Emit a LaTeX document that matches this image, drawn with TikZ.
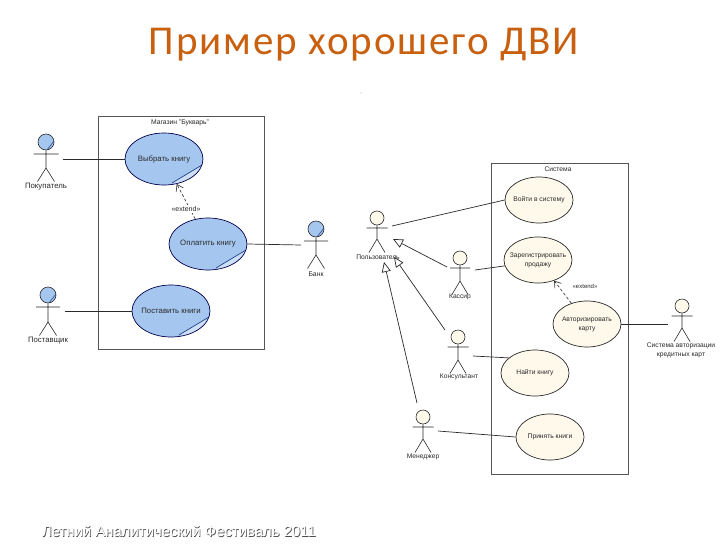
\documentclass[tikz,border=0pt]{standalone}
\usepackage{fontspec}
\setmainfont{Liberation Sans}
\newfontfamily\titlefont[LetterSpace=4.6]{Carlito}
\usetikzlibrary{shapes.geometric,arrows.meta}
\definecolor{titleor}{HTML}{C8600F}
\definecolor{ink}{HTML}{2A2A2A}
\definecolor{blueuc}{HTML}{A5C6EE}
\definecolor{creamuc}{HTML}{FFF9EC}
\definecolor{foldblue}{HTML}{24478F}
\tikzset{
  x=1pt,y=-1pt,
  lbl/.style={font=\fontsize{7.8}{9.5}\selectfont,text=ink,inner sep=0pt,align=center},
  lblr/.style={font=\fontsize{6.7}{9}\selectfont,text=ink,inner sep=0pt,align=center},
  sysbox/.style={draw=ink!80,line width=.9pt},
  conn/.style={draw=ink,line width=.7pt},
  ucbase/.style={ellipse,draw=ink,line width=.7pt},
  ucblue/.style={ucbase,lbl,inner xsep=-20pt,inner ysep=-4pt,fill=blueuc,draw=black!70!blue,minimum width=78pt,minimum height=52pt,
    path picture={
      \fill[blueuc!55!white] ([shift={(8,24)}]path picture bounding box.center) -- ([shift={(38,6)}]path picture bounding box.center) -- ([shift={(40,30)}]path picture bounding box.center) -- cycle;
      \draw[foldblue,line width=.7pt] ([shift={(8,24)}]path picture bounding box.center) -- ([shift={(38,6)}]path picture bounding box.center);
    }},
  uccream/.style={ucbase,lblr,inner xsep=-20pt,inner ysep=-6pt,fill=creamuc,minimum width=68pt,minimum height=46pt},
  headblue/.style={fill=blueuc,minimum size=16pt,
    path picture={\draw[foldblue,line width=.6pt] ([shift={(1,8)}]path picture bounding box.center) -- ([shift={(8,-1)}]path picture bounding box.center);}},
  headcream/.style={fill=creamuc,minimum size=14pt},
  genline/.style={conn,-{Triangle[open,fill=white,length=10pt,width=9pt]}},
  extline/.style={draw=ink,line width=.6pt,densely dashed,-{Straight Barb[length=6pt,width=8pt]}},
  footer/.style={font=\fontsize{14.9}{17}\selectfont,inner sep=0pt},
}
% actor: #1 name, #2 x, #3 y (head centre), #4 head style, #5 arm drop, #6 hip drop, #7 half arm span, #8 leg spread
\newcommand{\actorfig}[8]{%
  \node[circle,draw=ink,line width=.6pt,inner sep=0pt,#4] (#1) at (#2,#3) {};
  \coordinate (#1hip) at (#2,#3+#6);
  \draw[ink,line width=.6pt] (#1.south) -- (#1hip)
    (#1hip) -- ++(-#8,13.5) (#1hip) -- ++(#8,13.5)
    (#2-#7,#3+#5) -- (#2+#7,#3+#5);
}
\begin{document}
\begin{tikzpicture}
\useasboundingbox (0,0) rectangle (728,546);
\fill[white] (0,0) rectangle (728,546);
\node[font=\titlefont\fontsize{41}{46}\selectfont,text=titleor,inner sep=0pt] (title) at (364,45) {Пример хорошего ДВИ};
\fill[black!30] (361,93) circle (.7);

% left system
\draw[sysbox] (98,116) rectangle (264,349);
\node[lbl,font=\fontsize{6.8}{8}\selectfont] (shoplbl) at (180,123) {Магазин "Букварь"};
\node[ucblue] (choose) at (164,159) {Выбрать книгу};
\node[ucblue] (pay) at (208,244) {Оплатить книгу};
\node[ucblue] (supply) at (171,311) {Поставить книги};

\actorfig{buyer}{46}{142}{headblue}{12}{26}{12.5}{8.5}
\actorfig{bank}{316}{229}{headblue}{12}{26}{12}{8.5}
\actorfig{vendor}{48}{295}{headblue}{12}{27}{12}{8.5}
\node[lbl] (buyerlbl) at (46,187) {Покупатель};
\node[lbl,font=\fontsize{6.8}{8}\selectfont] (banklbl) at (316,274) {Банк};
\node[lbl] (vendorlbl) at (48,341) {Поставщик};
\coordinate (buyerC) at (63,159);
\coordinate (bankC) at (301,245);
\coordinate (vendorC) at (65,311);
\draw[conn] (buyerC) -- (choose.west);
\draw[conn] (pay.east) -- (bankC);
\draw[conn] (vendorC) -- (supply.west);
\draw[extline] (pay.117) -- (choose.-63);
\node[lbl,fill=white,inner xsep=1pt,inner ysep=1pt,font=\fontsize{7}{8}\selectfont] (ext1) at (186,209) {«extend»};

% right system
\draw[sysbox] (491,163) rectangle (628,474);
\node[lblr] (syslbl) at (558,169) {Система};
\node[uccream] (login) at (539,200) {Войти в систему};
\node[uccream] (sale) at (538,260) {Зарегистрировать\\продажу};
\node[uccream] (auth) at (587,324) {Авторизировать\\карту};
\node[uccream] (find) at (535,373) {Найти книгу};
\node[uccream] (accept) at (550,437) {Принять книги};

\actorfig{user}{377}{218}{headcream}{10}{21}{10.5}{8}
\actorfig{cashier}{460}{258}{headcream}{10}{23}{10}{8}
\actorfig{consult}{458}{337}{headcream}{10}{23}{10.5}{8}
\actorfig{manager}{423}{417}{headcream}{10}{22}{10.5}{8}
\actorfig{cardsys}{682}{306}{headcream}{10}{22}{10.5}{8}
\node[lblr] (userlbl) at (378,257) {Пользователь};
\node[lblr] (cashierlbl) at (460,297) {Кассир};
\node[lblr] (consultlbl) at (459,377) {Консультант};
\node[lblr] (managerlbl) at (423,457) {Менеджер};
\node[lblr] (cardlbl) at (681,350) {Система авторизации\\кредитных карт};

\coordinate (userC) at (392,226);
\coordinate (userT1) at (393,239);
\coordinate (userT2) at (394,257);
\coordinate (userT3) at (384,262);
\coordinate (cashierC) at (475,270);
\coordinate (cashierG) at (447,267);
\coordinate (consultG) at (445,330);
\coordinate (consultC) at (473,356);
\coordinate (managerG) at (417,403);
\coordinate (managerC) at (438,431);
\coordinate (cardC) at (668,324);

\draw[conn] (userC) -- (login.west);
\draw[conn] (cashierC) -- (sale.-170);
\draw[genline] (cashierG) -- (userT1);
\draw[genline] (consultG) -- (userT2);
\draw[genline] (managerG) -- (userT3);
\draw[conn] (consultC) -- (find.150);
\draw[conn] (managerC) -- (accept.west);
\draw[conn] (auth.east) -- (cardC);
\draw[extline] (auth.127) -- (sale.-52);
\node[lblr,font=\fontsize{6}{7}\selectfont] (ext2) at (585,286) {«extend»};

% footer
\node[footer,text=black!70] (footshadow) at (179.7,531.6) {Летний Аналитический Фестиваль 2011};
\node[footer,text=white] (foot) at (179,531) {Летний Аналитический Фестиваль 2011};
\end{tikzpicture}
\end{document}
